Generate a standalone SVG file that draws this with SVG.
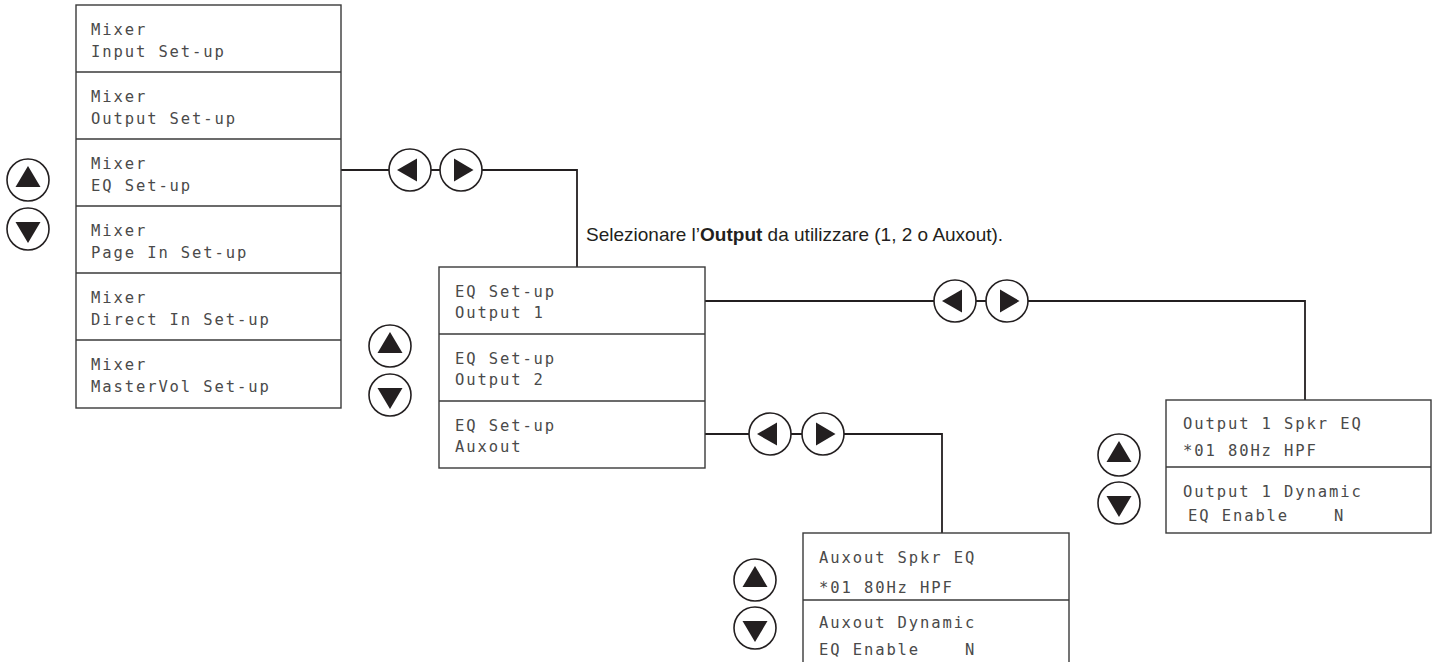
<svg xmlns="http://www.w3.org/2000/svg" width="1438" height="662" viewBox="0 0 1438 662">
<style>
.box{fill:#fff;stroke:#3a3a3a;stroke-width:1.4}
.div{stroke:#3a3a3a;stroke-width:1.6}
.lcd{font-family:"DejaVu Sans Mono","Liberation Mono",monospace;font-size:15.5px;letter-spacing:1.9px;fill:#4a4a4a;white-space:pre}
.conn{fill:none;stroke:#231f20;stroke-width:1.8}
.cap{font-family:"Liberation Sans",Arial,sans-serif;font-size:19px;fill:#231f20}
.btn circle{fill:#fff;stroke:#231f20;stroke-width:1.6}
.btn polygon{fill:#231f20}
</style>
<defs>
<g id="bL" class="btn"><circle r="21"/><polygon points="-13,0 7,-11.5 7,11.5"/></g>
<g id="bR" class="btn"><circle r="21"/><polygon points="-7,-11.5 -7,11.5 12.5,0"/></g>
<g id="bU" class="btn"><circle r="21"/><polygon points="0,-14 -12.5,7 12.5,7"/></g>
<g id="bD" class="btn"><circle r="21"/><polygon points="0,14 -12.5,-7 12.5,-7"/></g>
</defs>

<g id="connectors">
<polyline class="conn" points="341,170 577,170 577,267"/>
<polyline class="conn" points="705,301 1305,301 1305,400"/>
<polyline class="conn" points="705,434 942,434 942,533"/>
</g>

<g id="mixer-menu">
<rect class="box" x="76" y="5" width="265" height="403"/>
<line class="div" x1="76" y1="72" x2="341" y2="72"/>
<line class="div" x1="76" y1="139" x2="341" y2="139"/>
<line class="div" x1="76" y1="206" x2="341" y2="206"/>
<line class="div" x1="76" y1="273" x2="341" y2="273"/>
<line class="div" x1="76" y1="340" x2="341" y2="340"/>
<text class="lcd" x="91" y="35">Mixer</text>
<text class="lcd" x="91" y="57">Input Set-up</text>
<text class="lcd" x="91" y="102">Mixer</text>
<text class="lcd" x="91" y="124">Output Set-up</text>
<text class="lcd" x="91" y="169">Mixer</text>
<text class="lcd" x="91" y="191">EQ Set-up</text>
<text class="lcd" x="91" y="236">Mixer</text>
<text class="lcd" x="91" y="258">Page In Set-up</text>
<text class="lcd" x="91" y="303">Mixer</text>
<text class="lcd" x="91" y="325">Direct In Set-up</text>
<text class="lcd" x="91" y="370">Mixer</text>
<text class="lcd" x="91" y="392">MasterVol Set-up</text>
</g>
<g id="mixer-updown">
<use href="#bU" x="28" y="180"/>
<use href="#bD" x="28" y="229"/>
</g>
<g id="nav1">
<use href="#bL" x="410" y="170"/>
<use href="#bR" x="461" y="170"/>
</g>

<g id="caption">
<text class="cap" x="586" y="241">Selezionare l’<tspan font-weight="bold">Output</tspan> da utilizzare (1, 2 o Auxout).</text>
</g>

<g id="eq-menu">
<rect class="box" x="439" y="267" width="266" height="201"/>
<line class="div" x1="439" y1="334" x2="705" y2="334"/>
<line class="div" x1="439" y1="401" x2="705" y2="401"/>
<text class="lcd" x="455" y="297">EQ Set-up</text>
<text class="lcd" x="455" y="318">Output 1</text>
<text class="lcd" x="455" y="364">EQ Set-up</text>
<text class="lcd" x="455" y="385">Output 2</text>
<text class="lcd" x="455" y="431">EQ Set-up</text>
<text class="lcd" x="455" y="452">Auxout</text>
</g>
<g id="eq-updown">
<use href="#bU" x="390" y="346"/>
<use href="#bD" x="390" y="395"/>
</g>
<g id="nav2">
<use href="#bL" x="955" y="301"/>
<use href="#bR" x="1007" y="301"/>
</g>
<g id="nav3">
<use href="#bL" x="770" y="434"/>
<use href="#bR" x="823" y="434"/>
</g>

<g id="output1-menu">
<rect class="box" x="1166" y="400" width="265" height="133"/>
<line class="div" x1="1166" y1="467" x2="1431" y2="467"/>
<text class="lcd" x="1183" y="429">Output 1 Spkr EQ</text>
<text class="lcd" x="1183" y="456">*01 80Hz HPF</text>
<text class="lcd" x="1183" y="497">Output 1 Dynamic</text>
<text class="lcd" x="1188" y="521">EQ Enable    N</text>
</g>
<g id="output1-updown">
<use href="#bU" x="1119" y="455"/>
<use href="#bD" x="1119" y="503"/>
</g>

<g id="auxout-menu">
<rect class="box" x="803" y="533" width="266" height="140"/>
<line class="div" x1="803" y1="600" x2="1069" y2="600"/>
<text class="lcd" x="819" y="563">Auxout Spkr EQ</text>
<text class="lcd" x="819" y="593">*01 80Hz HPF</text>
<text class="lcd" x="819" y="628">Auxout Dynamic</text>
<text class="lcd" x="819" y="655">EQ Enable    N</text>
</g>
<g id="auxout-updown">
<use href="#bU" x="755" y="580"/>
<use href="#bD" x="755" y="628"/>
</g>
</svg>
